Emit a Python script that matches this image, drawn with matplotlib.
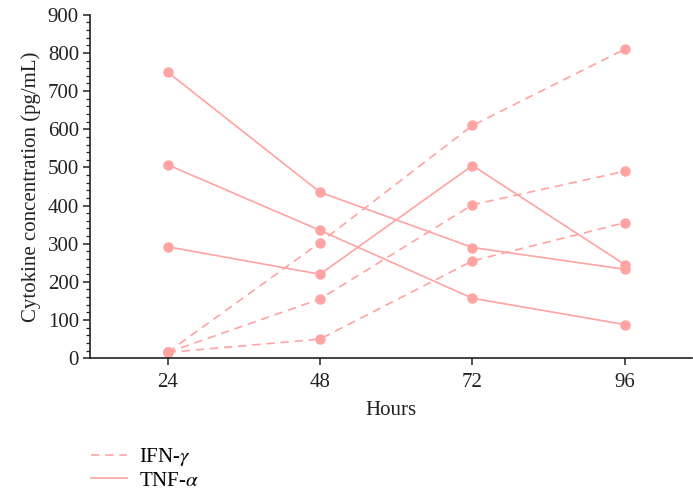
import matplotlib
matplotlib.use("Agg")
import matplotlib.pyplot as plt
from matplotlib.ticker import MultipleLocator
from matplotlib.lines import Line2D

plt.rcParams['font.family'] = ['Liberation Serif', 'DejaVu Serif']
plt.rcParams['mathtext.fontset'] = 'stix'

hours = [24, 48, 72, 96]

# IFN-gamma (dashed)
ifn_1 = [15, 303, 610, 810]
ifn_2 = [15, 155, 402, 490]
ifn_3 = [15, 50, 255, 355]

# TNF-alpha (solid)
tnf_1 = [750, 435, 290, 233]
tnf_2 = [507, 335, 157, 88]
tnf_3 = [292, 220, 505, 245]

color = '#FFA3A3'
dash = (0, (5, 3.5))

fig = plt.figure(figsize=(6.93, 4.94), dpi=100)
ax = fig.add_axes([0.130, 0.275, 0.868, 0.695])

for s in (ifn_1, ifn_2, ifn_3):
    ax.plot(hours, s, color=color, lw=1.2, ls=dash, marker='o', ms=6.5, mec=color)
for s in (tnf_1, tnf_2, tnf_3):
    ax.plot(hours, s, color=color, lw=1.2, ls='-', marker='o', ms=6.5, mec=color)

ax.set_xlim(11.8, 106.5)
ax.set_ylim(0, 900)
ax.set_xticks(hours)
ax.yaxis.set_major_locator(MultipleLocator(100))
ax.yaxis.set_minor_locator(MultipleLocator(20))
for side in ('top', 'right'):
    ax.spines[side].set_visible(False)
for side in ('left', 'bottom'):
    ax.spines[side].set_linewidth(1.2)
    ax.spines[side].set_color('#222222')
ax.tick_params(axis='both', which='major', labelsize=15, length=5, width=1.1, colors='#222222')
ax.tick_params(axis='y', which='minor', length=3, width=0.9, colors='#222222')
ax.tick_params(axis='y', pad=3)
ax.tick_params(axis='x', pad=6)
ax.set_xlabel('Hours', fontsize=15, labelpad=6, color='#222222')
ax.set_ylabel('Cytokine concentration (pg/mL)', fontsize=15, labelpad=5, color='#222222')

handles = [Line2D([], [], color=color, lw=1.2, ls=dash),
           Line2D([], [], color=color, lw=1.2)]
fig.legend(handles, ['IFN-$\\gamma$', 'TNF-$\\alpha$'], loc='upper left',
           bbox_to_anchor=(0.132, 0.097), frameon=False, fontsize=15,
           handlelength=1.7, handletextpad=0.6, labelspacing=0.15, borderaxespad=0,
           borderpad=0)

fig.savefig('out.png', dpi=100)
